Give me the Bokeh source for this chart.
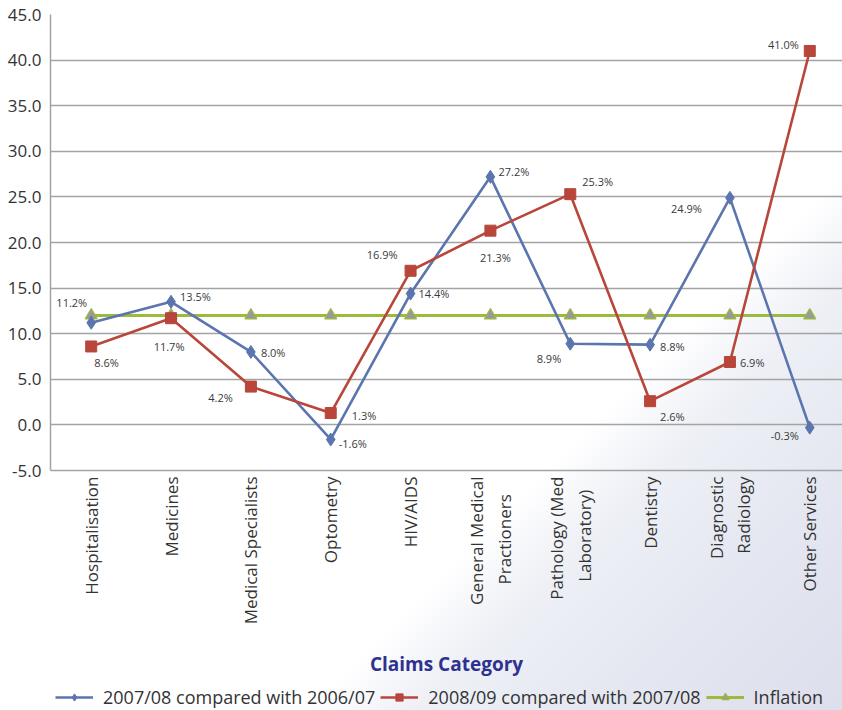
from bokeh.plotting import figure
from bokeh.layouts import column
from bokeh.models import (ColumnDataSource, Range1d, FixedTicker, NumeralTickFormatter,
                          Legend, LegendItem)
from bokeh.core.properties import value
from bokeh.embed import file_html
from bokeh.resources import INLINE
import math

NB = "\u00a0"

# Claims categories (two-line names are centred on their tick)
categories = ["Hospitalisation", "Medicines", "Medical Specialists", "Optometry", "HIV/AIDS",
              "General Medical\nPractioners" + NB * 4, "Pathology (Med\nLaboratory)" + NB * 3,
              "Dentistry", "Diagnostic\nRadiology", "Other Services"]

# Year-on-year growth in claims, %
growth_0708 = [11.2, 13.5, 8.0, -1.6, 14.4, 27.2, 8.9, 8.8, 24.9, -0.3]
growth_0809 = [8.6, 11.7, 4.2, 1.3, 16.9, 21.3, 25.3, 2.6, 6.9, 41.0]
inflation = [12.0, 12.0, 12.0, 12.0, 12.0, 12.0, 12.0, 12.0, 12.0, 12.0]

series_names = ["2007/08 compared with 2006/07", "2008/09 compared with 2007/08", "Inflation"]

# Label placement (screen px) around each point
blue_dx = [-4, 9, 10, 8, 8, 8, -9, 10, -28, -11]
blue_dy = [-20, -5, 1, 4, 0, -5, 15, 2, 11, 8]
blue_align = ["right", "left", "left", "left", "left", "left", "right", "left", "right", "right"]
red_dx = [3, -2, -18, 21, -13, 5, 12, 10, 10, -11]
red_dy = [16, 28, 11, 2, -16, 27, -13, 15, 1, -6]
red_align = ["left", "center", "right", "left", "right", "center", "left", "left", "left", "right"]

FONT = "Open Sans"
BLUE = "#5b75ae"
RED = "#b8463a"
GREEN = "#9cba3c"
GRID = "#a3a3a3"

xs = list(range(1, len(categories) + 1))

p = figure(frame_width=792, frame_height=456, output_backend="svg", toolbar_location=None,
           x_range=Range1d(0.49, 10.41), y_range=Range1d(-5, 45),
           min_border_left=50, min_border_top=14, min_border_right=0, min_border_bottom=0)
p.border_fill_color = None
p.background_fill_color = None
p.outline_line_color = None

# axes
p.xaxis.ticker = FixedTicker(ticks=xs)
p.xaxis.major_label_overrides = {x: c for x, c in zip(xs, categories)}
p.xaxis.major_label_orientation = math.pi / 2
p.xaxis.axis_label = "Claims Category"
p.xaxis.axis_label_text_font = FONT
p.xaxis.axis_label_text_font_style = "bold"
p.xaxis.axis_label_text_font_size = "19px"
p.xaxis.axis_label_text_color = "#2e3190"
p.xaxis.axis_label_text_line_height = 1.0
p.xaxis.axis_label_standoff = 24
p.yaxis.ticker = FixedTicker(ticks=list(range(-5, 50, 5)))
p.yaxis.formatter = NumeralTickFormatter(format="0.0")
for ax in (p.xaxis[0], p.yaxis[0]):
    ax.major_label_text_font = FONT
    ax.major_label_text_font_size = "17px"
    ax.major_label_text_color = "#333333"
    ax.axis_line_color = GRID
    ax.axis_line_width = 1.5
    ax.major_tick_line_color = None
    ax.minor_tick_line_color = None
    ax.major_label_standoff = 0
p.yaxis.major_label_standoff = 3
p.xgrid.grid_line_color = None
p.ygrid.grid_line_color = GRID
p.ygrid.grid_line_width = 1.5

# series
src_b = ColumnDataSource(dict(x=xs, y=growth_0708, lab=[f"{v:.1f}%" for v in growth_0708],
                              dx=blue_dx, dy=blue_dy, al=blue_align))
src_r = ColumnDataSource(dict(x=xs, y=growth_0809, lab=[f"{v:.1f}%" for v in growth_0809],
                              dx=red_dx, dy=red_dy, al=red_align))
src_g = ColumnDataSource(dict(x=xs, y=inflation))

styles_g = dict(line=dict(line_color=GREEN, line_width=3),
                mark=dict(marker="triangle", size=12, fill_color="#999999",
                          line_color=GREEN, line_width=1.2))
styles_b = dict(line=dict(line_color=BLUE, line_width=2.6),
                mark=dict(marker="diamond", size=13, fill_color=BLUE, line_color=BLUE))
styles_r = dict(line=dict(line_color=RED, line_width=2.6),
                mark=dict(marker="square", size=11, fill_color=RED, line_color=RED))


def draw(fig, src, st):
    ln = fig.line("x", "y", source=src, **st["line"])
    mk = fig.scatter("x", "y", source=src, **st["mark"])
    return [ln, mk]


draw(p, src_g, styles_g)
draw(p, src_b, styles_b)
draw(p, src_r, styles_r)

for src in (src_b, src_r):
    p.text("x", "y", text="lab", source=src, x_offset="dx", y_offset="dy", text_align="al",
           text_baseline="middle", text_font=value(FONT), text_font_size="11px",
           text_color="#3a3a3a")

# legend strip under the chart: same series, drawn outside its visible range
leg = figure(width=842, height=40, output_backend="svg", toolbar_location=None,
             x_range=Range1d(0.49, 10.41), y_range=Range1d(1000, 1001),
             min_border=0, x_axis_location=None, y_axis_location=None)
leg.border_fill_color = None
leg.background_fill_color = None
leg.outline_line_color = None
leg.grid.visible = False
rb = draw(leg, src_b, styles_b)
rr = draw(leg, src_r, styles_r)
rg = draw(leg, src_g, styles_g)

legend = Legend(items=[LegendItem(label=series_names[0], renderers=rb),
                       LegendItem(label=series_names[1], renderers=rr),
                       LegendItem(label=series_names[2], renderers=rg)],
                orientation="horizontal", location=(5, 11))
legend.label_text_font = FONT
legend.label_text_font_size = "18px"
legend.label_text_color = "#333333"
legend.label_height = 18
legend.glyph_width = 38
legend.glyph_height = 18
legend.label_standoff = 10
legend.spacing = 5
legend.padding = 0
legend.margin = 0
legend.border_line_color = None
legend.background_fill_alpha = 0
leg.add_layout(legend)

page = column(p, leg, spacing=0, styles={
    "background": "linear-gradient(135deg, #ffffff 0%, #ffffff 65%, #eef0f6 72%, "
                  "#e5e8f1 83%, #dcdfec 100%)"
})

open("out.html", "w").write(file_html(page, INLINE))
